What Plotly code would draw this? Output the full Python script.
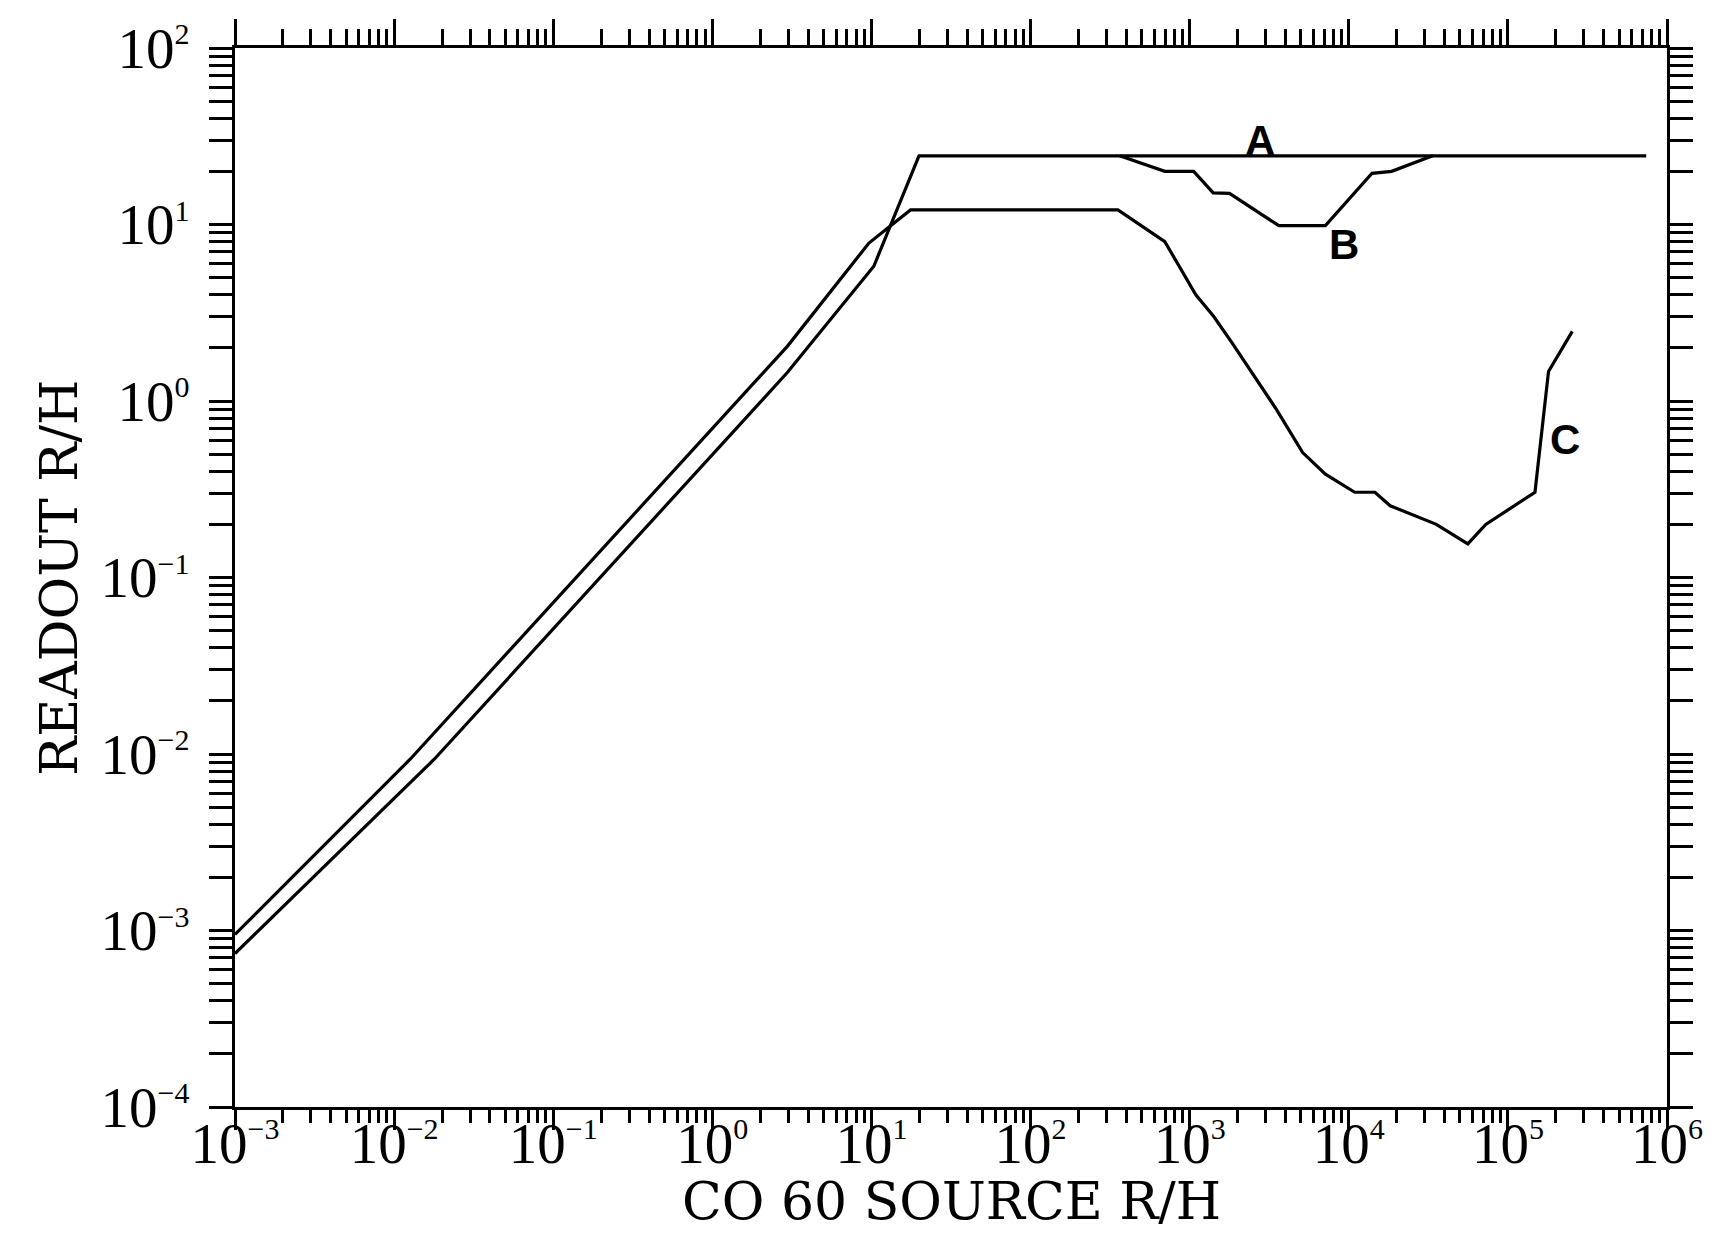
import math
import plotly.graph_objects as go

# ---------------- data ----------------
# Curve A: lower line at start, saturates at ~25 R/H
curve_a_x = [1e-3, 0.018, 2.96, 10.35, 19.9, 7.4e5]
curve_a_y = [7.4e-4, 0.0094, 1.45, 5.8, 24.5, 24.5]

# Curve B: dip below A between ~360 and ~3.4e4
curve_b_x = [363, 698, 1060, 1406, 1780, 3630, 7130, 14000, 18600, 33700]
curve_b_y = [24.5, 20.0, 20.0, 15.1, 15.0, 9.85, 9.85, 19.5, 20.0, 24.5]

# Curve C: upper line at start, plateau ~12, falls, then rises again
curve_c_x = [1e-3, 0.0127, 2.96, 9.64, 17.6, 354, 698, 1093, 1413, 1842, 3500,
             5130, 7130, 10900, 14600, 18200, 35500, 56000, 72600, 148000,
             180000, 254000]
curve_c_y = [9.5e-4, 0.0094, 2.04, 7.85, 12.1, 12.1, 8.0, 4.0, 3.02, 2.14, 0.90,
             0.51, 0.385, 0.304, 0.304, 0.255, 0.200, 0.155, 0.200, 0.304,
             1.47, 2.48]

curve_labels = ["A", "B", "C"]
label_x = [2760, 9290, 227000]
label_y = [29.8, 7.69, 0.607]

x_exponents = [-3, -2, -1, 0, 1, 2, 3, 4, 5, 6]
y_exponents = [-4, -3, -2, -1, 0, 1, 2]
x_title = "CO 60 SOURCE R/H"
y_title = "READOUT R/H"


def sup_label(e):
    exp = ("\u2212" + str(-e)) if e < 0 else str(e)
    return "10<sup><span style='font-size:30px'>" + exp + "</span></sup>"


x_tick_vals = [10.0 ** e for e in x_exponents]
x_tick_text = [sup_label(e) for e in x_exponents]
y_tick_vals = [10.0 ** e for e in y_exponents]
y_tick_text = [sup_label(e) for e in y_exponents]
x_minor = [m * 10.0 ** e for e in x_exponents[:-1] for m in range(2, 10)]
y_minor = [m * 10.0 ** e for e in y_exponents[:-1] for m in range(2, 10)]

# ---------------- figure ----------------
line_style = dict(color="black", width=3.2)
fig = go.Figure()
fig.add_trace(go.Scatter(x=curve_a_x, y=curve_a_y, mode="lines", line=line_style,
                         showlegend=False, hoverinfo="skip"))
fig.add_trace(go.Scatter(x=curve_c_x, y=curve_c_y, mode="lines", line=line_style,
                         showlegend=False, hoverinfo="skip"))
# curve B is drawn on the mirrored (top/right) axes, which share the same ranges
fig.add_trace(go.Scatter(x=curve_b_x, y=curve_b_y, mode="lines", line=line_style,
                         showlegend=False, hoverinfo="skip",
                         xaxis="x2", yaxis="y2"))

tick_font = dict(family="Liberation Serif", size=57, color="black")
title_font = dict(family="DejaVu Serif", size=52, color="black")
label_font = dict(family="Liberation Sans", size=42, color="black", weight="bold")

base = dict(type="log", showgrid=False, zeroline=False, showline=True,
            linecolor="black", linewidth=3.2, ticks="outside", tickcolor="black",
            tickwidth=3)


def minor(vals, length):
    return dict(tickmode="array", tickvals=vals, ticks="outside", ticklen=length,
                tickwidth=2.5, tickcolor="black", showgrid=False)


fig.update_layout(
    width=1723, height=1249,
    margin=dict(l=227, r=64, t=40, b=150, autoexpand=False),
    paper_bgcolor="white", plot_bgcolor="white",
    xaxis=dict(**base, range=[-3, 6], tickmode="array", tickvals=x_tick_vals,
               ticktext=x_tick_text, ticklen=20, minor=minor(x_minor, 13),
               tickfont=tick_font, ticklabelstandoff=-36),
    xaxis2=dict(**base, range=[-3, 6], overlaying="x", side="top", anchor="y",
                tickmode="array", tickvals=x_tick_vals, ticklen=26,
                minor=minor(x_minor, 16), showticklabels=False),
    yaxis=dict(**base, range=[-4, 2], tickmode="array", tickvals=y_tick_vals,
               ticktext=y_tick_text, ticklen=23, minor=minor(y_minor, 23),
               tickfont=tick_font, ticklabelstandoff=8),
    yaxis2=dict(**base, range=[-4, 2], overlaying="y", side="right", anchor="x",
                tickmode="array", tickvals=y_tick_vals, ticklen=23,
                minor=minor(y_minor, 23), showticklabels=False),
)

# axis titles
fig.add_annotation(x=0.5, y=-0.089, xref="paper", yref="paper", text=x_title,
                   showarrow=False, xanchor="center", yanchor="middle",
                   font=title_font)
fig.add_annotation(x=-0.1234, y=0.5, xref="paper", yref="paper", text=y_title,
                   showarrow=False, xanchor="center", yanchor="middle",
                   textangle=-90, font=title_font)

# curve labels (log axes take log10 positions)
for t, lx, ly in zip(curve_labels, label_x, label_y):
    fig.add_annotation(x=math.log10(lx), y=math.log10(ly), xref="x", yref="y",
                       text=t, showarrow=False, xanchor="center",
                       yanchor="middle", font=label_font)

fig.write_html("out.html")
